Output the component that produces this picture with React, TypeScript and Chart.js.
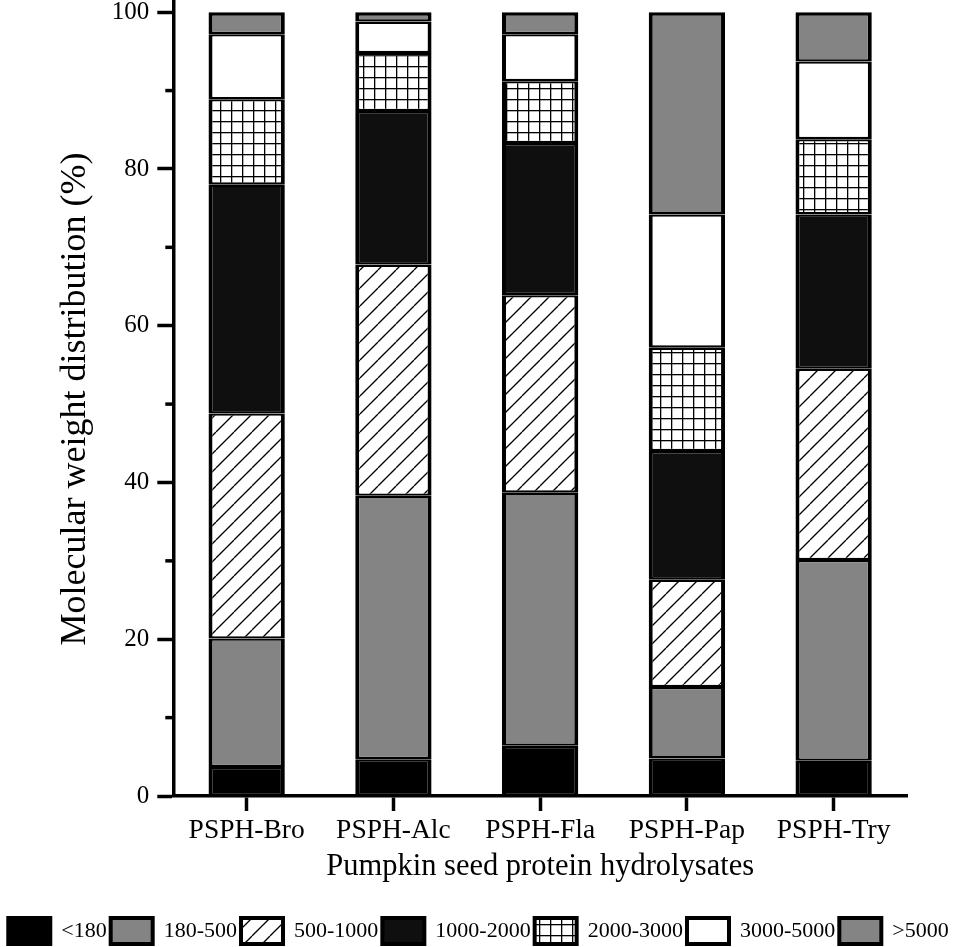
import { useEffect, useRef } from "react"
import { Chart, registerables } from "chart.js"

Chart.register(...registerables)

const categories = ["PSPH-Bro", "PSPH-Alc", "PSPH-Fla", "PSPH-Pap", "PSPH-Try"]

const lt180 = [3.7, 4.7, 6.4, 4.8, 4.5]
const r180to500 = [16.4, 33.6, 32.3, 9.1, 25.6]
const r500to1000 = [28.7, 29.5, 25.2, 13.7, 24.4]
const r1000to2000 = [29.2, 19.6, 19.4, 16.4, 19.7]
const r2000to3000 = [10.9, 7.4, 7.9, 13.2, 9.6]
const r3000to5000 = [8.3, 4.0, 6.0, 17.0, 9.9]
const gt5000 = [2.8, 1.2, 2.8, 25.8, 6.3]

const seriesLabels = ["<180", "180-500", "500-1000", "1000-2000", "2000-3000", "3000-5000", ">5000"]
const majorTicks = [0, 20, 40, 60, 80, 100]
const minorTicks = [10, 30, 50, 70, 90]

const serif = '"Liberation Serif", "Times New Roman", serif'

function makeTile(size: number, draw: (c: CanvasRenderingContext2D) => void) {
	const tile = document.createElement("canvas")
	tile.width = size
	tile.height = size
	const c = tile.getContext("2d") as CanvasRenderingContext2D
	c.fillStyle = "#fff"
	c.fillRect(0, 0, size, size)
	draw(c)
	return c.createPattern(tile, "repeat") as CanvasPattern
}

function hatch() {
	const s = 18
	return makeTile(s, (c) => {
		c.strokeStyle = "#000"
		c.lineWidth = 1.3
		for (const k of [-s, 0, s]) {
			c.beginPath()
			c.moveTo(k, s)
			c.lineTo(k + s, 0)
			c.stroke()
		}
	})
}

function grid() {
	const s = 11
	return makeTile(s, (c) => {
		c.fillStyle = "#000"
		c.fillRect(0, 0, 1.3, s)
		c.fillRect(0, 0, s, 1.3)
	})
}

const minorTickPlugin = {
	id: "minorTicks",
	afterDraw(chart: Chart) {
		const y = chart.scales.y
		const ctx = chart.ctx
		ctx.save()
		ctx.strokeStyle = "#000"
		ctx.lineWidth = 3.5
		for (const v of minorTicks) {
			const py = y.getPixelForValue(v)
			ctx.beginPath()
			ctx.moveTo(y.right - 8, py)
			ctx.lineTo(y.right, py)
			ctx.stroke()
		}
		ctx.restore()
	}
}

export default function App() {
	const canvasRef = useRef<HTMLCanvasElement>(null)

	useEffect(() => {
		const ctx = canvasRef.current?.getContext("2d") as CanvasRenderingContext2D
		Chart.defaults.color = "#000"
		Chart.defaults.font.family = serif

		const inner = { top: 2.3, bottom: 2.3, left: 4, right: 4 }
		const fills = ["#000000", "#848484", hatch(), "#0f0f0f", grid(), "#ffffff", "#848484"]
		const values = [lt180, r180to500, r500to1000, r1000to2000, r2000to3000, r3000to5000, gt5000]

		const datasets = values.map((data, i) => ({
			label: seriesLabels[i],
			data,
			backgroundColor: fills[i],
			borderColor: "#000",
			borderWidth: i === values.length - 1 ? { ...inner, top: 3.5 } : inner,
			borderSkipped: false as const,
			categoryPercentage: 1,
			barPercentage: 0.52
		}))

		const chart = new Chart(ctx, {
			type: "bar",
			data: { labels: categories, datasets },
			options: {
				animation: false,
				responsive: true,
				maintainAspectRatio: false,
				layout: { padding: { top: 2, left: 0, right: 0, bottom: -7 } },
				plugins: {
					tooltip: { enabled: false },
					legend: {
						position: "bottom",
						labels: {
							boxWidth: 42,
							boxHeight: 26,
							padding: 4,
							color: "#000",
							font: { size: 22, family: serif },
							generateLabels: (c: Chart) =>
								Chart.defaults.plugins.legend.labels
									.generateLabels(c)
									.map((l) => ({ ...l, lineWidth: 4, strokeStyle: "#000" }))
						}
					}
				},
				scales: {
					x: {
						stacked: true,
						offset: true,
						border: { color: "#000", width: 3.5 },
						grid: {
							offset: false,
							drawOnChartArea: false,
							tickLength: 15,
							tickWidth: 3.5,
							tickColor: "#000"
						},
						ticks: {
							color: "#000",
							padding: 3,
							maxRotation: 0,
							autoSkip: false,
							font: { size: 27.5, family: serif }
						},
						title: {
							display: true,
							text: "Pumpkin seed protein hydrolysates",
							color: "#000",
							font: { size: 30.5, family: serif },
							padding: { top: 0, bottom: 29 }
						},
						afterFit: (s: any) => {
							s.height = 118
						}
					},
					y: {
						stacked: true,
						min: 0,
						max: 101.3,
						border: { color: "#000", width: 3.5 },
						grid: {
							drawOnChartArea: false,
							tickLength: 16,
							tickWidth: 3.5,
							tickColor: "#000"
						},
						ticks: {
							color: "#000",
							padding: 8,
							font: { size: 25, family: serif }
						},
						title: {
							display: true,
							text: "Molecular weight distribution (%)",
							color: "#000",
							font: { size: 36, family: serif },
							padding: { top: 54, bottom: 0 }
						},
						afterBuildTicks: (s: any) => {
							s.ticks = majorTicks.map((value) => ({ value }))
						},
						afterFit: (s: any) => {
							s.width = 173.3
							s.paddingTop = 0
							s.paddingBottom = 0
						}
					},
					yRight: {
						type: "linear",
						position: "right",
						display: true,
						grid: { display: false },
						border: { display: false },
						ticks: { display: false },
						afterFit: (s: any) => {
							s.width = 50
						}
					}
				}
			},
			plugins: [minorTickPlugin]
		})

		return () => {
			chart.destroy()
		}
	}, [])

	return (
		<div style={{ position: "absolute", left: 0, top: 0, width: 957, height: 947 }}>
			<canvas ref={canvasRef}>Your browser does not support the canvas element.</canvas>
		</div>
	)
}
